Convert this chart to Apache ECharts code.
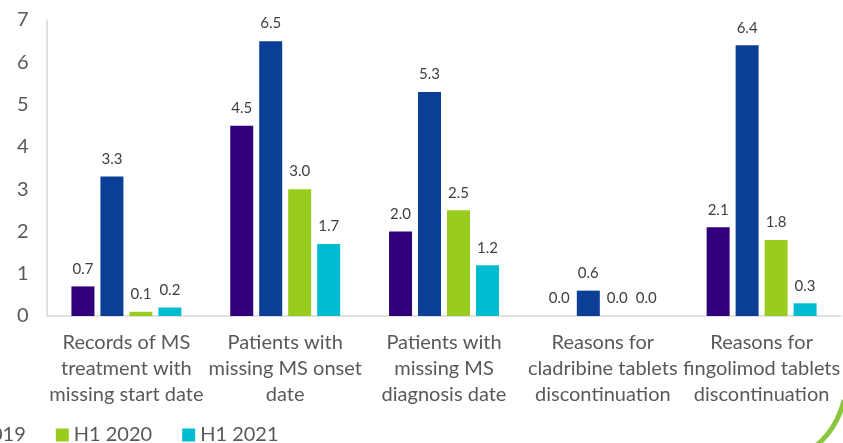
<!DOCTYPE html>
<html>
<head>
<meta charset="utf-8">
<script src="https://cdn.jsdelivr.net/npm/echarts@6/dist/echarts.min.js"></script>
<style>
html,body{margin:0;padding:0;background:#fff;}
#chart{width:843px;height:443px;}
</style>
</head>
<body>
<div id="chart"></div>
<script>
const categories = [
  "Records of MS\ntreatment with\nmissing start date",
  "Patients with\nmissing MS onset\ndate",
  "Patients with\nmissing MS\ndiagnosis date",
  "Reasons for\ncladribine tablets\ndiscontinuation",
  "Reasons for\nfingolimod tablets\ndiscontinuation"
];
const seriesNames = ["H1 2019", "H2 2019", "H1 2020", "H1 2021"];
const seriesColors = ["#32007a", "#0b3f95", "#98cc1e", "#00bcd0"];
const valuesS1 = [0.7, 4.5, 2.0, 0.0, 2.1];
const valuesS2 = [3.3, 6.5, 5.3, 0.6, 6.4];
const valuesS3 = [0.1, 3.0, 2.5, 0.0, 1.8];
const valuesS4 = [0.2, 1.7, 1.2, 0.0, 0.3];
const yTicks = { min: 0, max: 7, interval: 1 };

const allValues = [valuesS1, valuesS2, valuesS3, valuesS4];
const font = "Lato";

const chart = echarts.init(document.getElementById('chart'), null, {renderer: 'canvas'});
chart.setOption({
  backgroundColor: '#ffffff',
  animation: false,
  textStyle: { fontFamily: font },
  grid: { left: 47, right: 0, top: 20, bottom: 127, containLabel: false },
  legend: {
    left: -202, top: 420,
    itemWidth: 13, itemHeight: 13, itemGap: 30,
    icon: 'rect',
    textStyle: { fontFamily: font, fontSize: 20, color: '#595959' },
    data: seriesNames
  },
  xAxis: {
    type: 'category',
    data: categories,
    axisLine: { show: true, lineStyle: { color: '#d9d9d9', width: 1.5 } },
    axisTick: { show: false },
    axisLabel: { interval: 0, fontFamily: font, fontSize: 20, lineHeight: 26, color: '#595959', margin: 14 }
  },
  yAxis: {
    type: 'value',
    min: yTicks.min, max: yTicks.max, interval: yTicks.interval,
    axisLine: { show: true, lineStyle: { color: '#d9d9d9', width: 1.5 } },
    axisTick: { show: false },
    splitLine: { show: false },
    axisLabel: { fontFamily: font, fontSize: 20, color: '#595959', margin: 30, align: 'left' }
  },
  series: allValues.map((vals, i) => ({
    name: seriesNames[i],
    type: 'bar',
    data: vals,
    barWidth: 23,
    barGap: '26%',
    itemStyle: { color: seriesColors[i] },
    label: {
      show: true, position: 'top', distance: 10,
      fontFamily: font, fontSize: 15, color: '#404040',
      formatter: p => p.value.toFixed(1)
    }
  })),
  graphic: [{
    type: 'bezierCurve',
    shape: { x1: 844, y1: 400, x2: 817, y2: 445, cpx1: 837, cpy1: 428 },
    style: { stroke: '#8cc63f', lineWidth: 5, fill: null }
  }]
});
</script>
</body>
</html>
